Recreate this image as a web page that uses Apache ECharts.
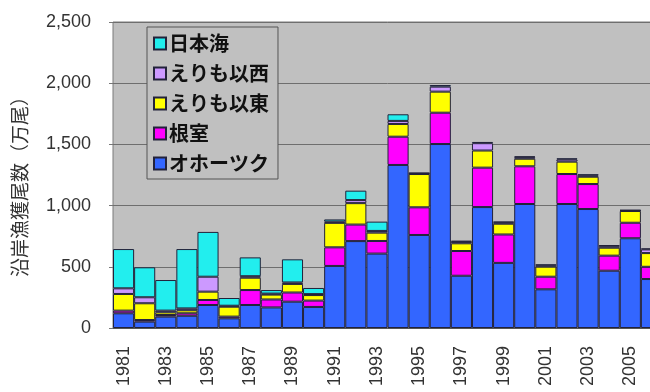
<!DOCTYPE html>
<html>
<head>
    <meta charset="utf-8">
    <title>沿岸漁獲尾数</title>
    <script src="https://cdn.jsdelivr.net/npm/echarts@6/dist/echarts.min.js"></script>
</head>
<style>
    html, body {
        margin: 0;
        overflow: hidden;
        background: #fff;
    }
    #main {
        width: 662px;
        height: 392px;
    }
</style>
<body>
    <div id="main"></div>
    <script type="text/javascript">
        var years = ['1981','1982','1983','1984','1985','1986','1987','1988','1989','1990',
                     '1991','1992','1993','1994','1995','1996','1997','1998','1999','2000',
                     '2001','2002','2003','2004','2005','2006'];
        // 万尾
        var okhotsk   = [120, 52, 93, 100, 188, 79, 188, 168, 215, 172, 507, 710, 608, 1332, 760, 1503, 427, 988, 532, 1013, 316, 1013, 972, 468, 733, 400];
        var nemuro    = [22, 13, 13, 20, 41, 14, 122, 65, 75, 52, 152, 135, 103, 231, 226, 256, 202, 322, 232, 308, 103, 245, 204, 123, 127, 100];
        var erimoEast = [136, 137, 22, 25, 68, 81, 101, 40, 70, 45, 200, 175, 68, 104, 272, 172, 63, 140, 88, 62, 82, 101, 60, 65, 96, 112];
        var erimoWest = [46, 49, 14, 15, 122, 8, 12, 8, 12, 8, 10, 25, 14, 25, 5, 41, 12, 60, 10, 12, 10, 18, 10, 12, 4, 30];
        var japanSea  = [321, 245, 250, 485, 366, 63, 154, 29, 189, 50, 18, 77, 76, 54, 5, 13, 9, 10, 7, 7, 9, 9, 10, 10, 4, 8];

        var names  = ['オホーツク', '根室', 'えりも以東', 'えりも以西', '日本海'];
        var colors = ['#3366ff', '#ff00ff', '#ffff00', '#cc99ff', '#22eeee'];
        var values = [okhotsk, nemuro, erimoEast, erimoWest, japanSea];

        var series = [];
        for (var i = 0; i < names.length; i++) {
            series.push({
                name: names[i],
                type: 'bar',
                stack: 'total',
                barCategoryGap: '0%',
                data: values[i],
                itemStyle: {
                    color: colors[i],
                    borderColor: '#22223a',
                    borderWidth: 1
                }
            });
        }

        var option = {
            animation: false,
            textStyle: { fontFamily: 'Liberation Sans, Arial, sans-serif' },
            grid: {
                left: 113, top: 22, right: 0, bottom: 64,
                show: true,
                backgroundColor: '#c0c0c0',
                borderColor: '#7a7a7a',
                borderWidth: 1
            },
            legend: {
                orient: 'vertical',
                left: 147,
                top: 27,
                data: ['日本海', 'えりも以西', 'えりも以東', '根室', 'オホーツク'],
                icon: 'rect',
                itemWidth: 12,
                itemHeight: 12,
                itemGap: 9,
                padding: [6, 9, 5, 6],
                backgroundColor: '#c0c0c0',
                borderColor: '#555',
                borderWidth: 1,
                textStyle: {
                    fontFamily: 'Noto Sans CJK JP',
                    fontSize: 20,
                    fontWeight: 'bold',
                    color: '#111',
                    lineHeight: 21,
                    padding: [0, 0, 0, -2]
                }
            },
            xAxis: {
                type: 'category',
                data: years,
                axisLine: { lineStyle: { color: '#555' } },
                axisTick: { show: false },
                axisLabel: {
                    interval: 1,
                    rotate: 90,
                    margin: 18,
                    fontSize: 18,
                    color: '#333'
                }
            },
            yAxis: {
                type: 'value',
                min: 0,
                max: 2500,
                interval: 500,
                name: '沿岸漁獲尾数（万尾）',
                nameLocation: 'middle',
                nameGap: 84,
                nameTextStyle: {
                    fontFamily: 'Noto Sans CJK JP',
                    fontSize: 19,
                    color: '#333',
                    padding: [0, 14, 0, 0]
                },
                axisLine: { show: false },
                axisTick: { show: true, length: 4, lineStyle: { color: '#777' } },
                axisLabel: {
                    margin: 22,
                    fontSize: 18,
                    color: '#333',
                    formatter: function (v) { return v.toLocaleString('en-US'); }
                },
                splitLine: { lineStyle: { color: '#6e6e6e' } }
            },
            series: series
        };

        var myChart = echarts.init(document.getElementById('main'));
        myChart.setOption(option);
    </script>
</body>
</html>
